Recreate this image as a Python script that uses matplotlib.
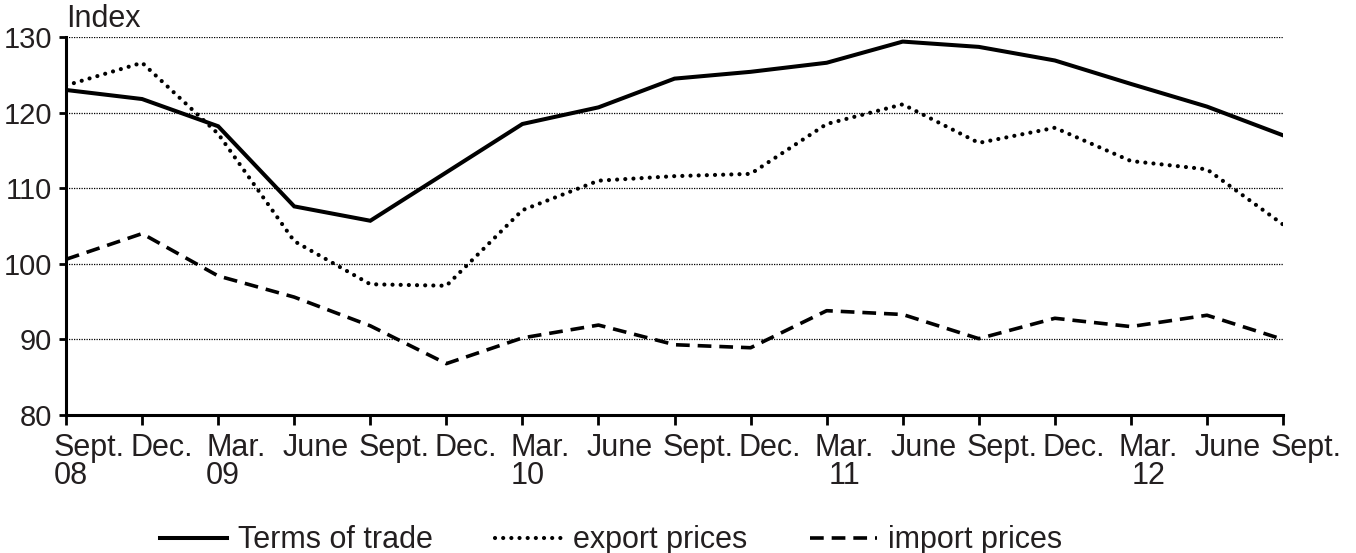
import numpy as np
import matplotlib
matplotlib.use("Agg")
import matplotlib.pyplot as plt
import matplotlib.transforms as mtransforms

plt.rcParams['font.family'] = ['Liberation Sans', 'DejaVu Sans']

# quarterly, Sept. 08 .. Sept. 12
quarters = ["Sept.\n08", "Dec.", "Mar.\n09", "June", "Sept.", "Dec.", "Mar.\n10", "June",
            "Sept.", "Dec.", "Mar.\n11", "June", "Sept.", "Dec.", "Mar.\n12", "June", "Sept."]
terms_of_trade = [123.0, 121.8, 118.2, 107.6, 105.7, 112.1, 118.5, 120.7, 124.5,
                  125.4, 126.6, 129.4, 128.7, 126.9, 123.8, 120.8, 117.0]
export_prices = [123.6, 126.6, 117.2, 103.0, 97.3, 97.1, 107.1, 111.0, 111.6,
                 111.9, 118.5, 121.1, 116.0, 118.0, 113.6, 112.5, 105.2]
import_prices = [100.6, 104.0, 98.4, 95.6, 91.8, 86.8, 90.2, 91.9, 89.3,
                 88.9, 93.8, 93.3, 90.1, 92.8, 91.7, 93.2, 90.0]
y_ticks = [80, 90, 100, 110, 120, 130]

fs = 22
x = np.arange(len(quarters))

fig = plt.figure(figsize=(13.56, 5.53), dpi=100)
ax = fig.add_axes([0.0487, 0.2495, 0.8975, 0.6835])

# dotted grid
for v in y_ticks[1:]:
    ax.axhline(v, color='black', lw=0.9, ls=(0, (1, 1)), zorder=1)

ax.plot(x, terms_of_trade, color='black', lw=2.9, solid_joinstyle='miter',
        label='Terms of trade', zorder=3)
ax.plot(x, export_prices, color='black', lw=3.0, ls=(0, (0.01, 1.95)),
        dash_capstyle='round', label='export prices', zorder=3)
ax.plot(x, import_prices, color='black', lw=2.6, ls=(0, (3.8, 2.2)),
        dash_capstyle='butt', label='import prices', zorder=3)

ax.set_xlim(0, len(quarters) - 1)
ax.set_ylim(80, 130)
ax.set_yticks(y_ticks)
ax.set_xticks(x)
ax.set_xticklabels([])

# quarter labels start a little left of their tick
shift = mtransforms.ScaledTranslation(-0.12, -0.175, fig.dpi_scale_trans)
trans = ax.get_xaxis_transform() + shift
for xi, lab in zip(x, quarters):
    ma = 'left' if lab.endswith(("08", "09", "10")) else 'center'
    ax.text(xi, 0, lab, transform=trans, ha='left', va='top', ma=ma,
            fontsize=fs, linespacing=0.95, color='#231f20', clip_on=False)

ax.tick_params(axis='y', labelsize=21, length=5, width=2, pad=5, labelcolor='#231f20')
ax.tick_params(axis='x', length=7, width=2, direction='out')

for s in ['top', 'right']:
    ax.spines[s].set_visible(False)
for s in ['left', 'bottom']:
    ax.spines[s].set_linewidth(2.2)

ax.text(0.0, 1.008, "Index", transform=ax.transAxes, fontsize=fs,
        ha='left', va='bottom', color='#231f20')

fig.legend(loc='center', bbox_to_anchor=(0.4506, 0.023), ncol=3, frameon=False,
           fontsize=fs, handlelength=2.2, handletextpad=0.35, columnspacing=2.05,
           labelcolor='#231f20', borderpad=0.1)

fig.savefig("out.png", dpi=100)
